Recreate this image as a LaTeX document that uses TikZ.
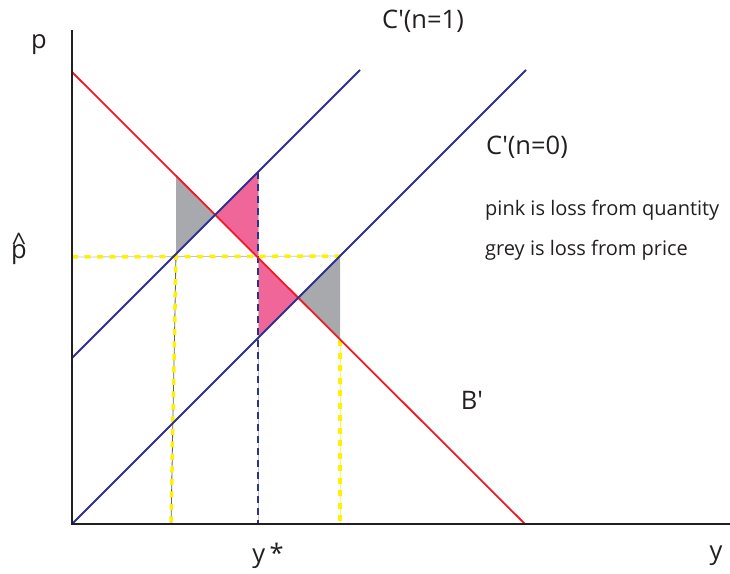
\documentclass[tikz,border=0pt]{standalone}
\usepackage{fontspec}
\setmainfont{Open Sans}
\definecolor{bred}{RGB}{237,28,36}
\definecolor{cblue}{RGB}{46,49,146}
\definecolor{lpink}{RGB}{240,102,152}
\definecolor{lgrey}{RGB}{167,169,172}
\definecolor{ylw}{RGB}{255,242,0}
\definecolor{axisc}{RGB}{35,31,32}
\begin{document}
\begin{tikzpicture}[x=1pt,y=-1pt,
  axisline/.style={draw=axisc,line width=2.2pt},
  redline/.style={draw=bred,line width=1.8pt},
  blueline/.style={draw=cblue,line width=1.8pt},
  yunder/.style={draw=lgrey!70,line width=0.8pt},
  ydash/.style={draw=ylw,line width=3.5pt,dash pattern=on 6pt off 6.5pt},
  bdash/.style={draw=cblue,line width=2.4pt,dash pattern=on 7pt off 5pt},
  lbl/.style={font=\fontsize{25.5}{28}\selectfont,text=axisc,inner sep=0pt},
  small/.style={font=\fontsize{20}{22}\selectfont,text=axisc,inner sep=0pt,anchor=west}]
\useasboundingbox (0,0) rectangle (730,573);
% key points
\coordinate (O) at (72,524);
\coordinate (Ytop) at (72,30);
\coordinate (Xend) at (730,524);
\coordinate (Bs) at (72,72);
\coordinate (Be) at (525,524);
\coordinate (C0s) at (72,524);
\coordinate (C0e) at (526,70);
\coordinate (C1s) at (72,358);
\coordinate (C1e) at (360,70);
% polygon vertices
\coordinate (g1a) at (176,176);
\coordinate (g1b) at (176,254);
\coordinate (x1) at (215,215);
\coordinate (p1a) at (258,172);
\coordinate (m) at (258,258);
\coordinate (p2b) at (258,338);
\coordinate (x2) at (298,298);
\coordinate (g2a) at (340,256);
\coordinate (g2b) at (340,340);
\coordinate (ph) at (72,257);
\coordinate (v1b) at (171,524);
\coordinate (vmb) at (258,524);
\coordinate (v2b) at (340,524);
% fills
\fill[lgrey] (g1a) -- (g1b) -- (x1) -- cycle;
\fill[lpink] (x1) -- (p1a) -- (m) -- cycle;
\fill[lpink] (m) -- (p2b) -- (x2) -- cycle;
\fill[lgrey] (x2) -- (g2a) -- (g2b) -- cycle;
% dashed guides
\draw[yunder] (ph) -- (g2a);
\draw[ydash] (ph) -- (g2a);
\draw[draw=axisc!70,line width=0.8pt] (g1b) -- (v1b);
\draw[ydash] (g1b) -- (v1b);
\draw[draw=ylw!60,line width=0.8pt] (g2b) -- (v2b);
\draw[ydash] (g2b) -- (v2b);
\draw[draw=lgrey!70,line width=0.8pt] (p1a) -- (vmb);
\draw[bdash] (p1a) -- (vmb);
% curves
\draw[redline] (Bs) -- (Be);
\draw[blueline] (C0s) -- (C0e);
\draw[blueline] (C1s) -- (C1e);
% axes
\draw[axisline] (Ytop) -- (O) -- (Xend);
% labels
\node[lbl] (lp) at (39,45) {p};
\node[lbl,anchor=base] (lph) at (19,258) {\ooalign{\hfil\raisebox{0.26em}{\char`\^}\hfil\cr p\cr}};
\node[lbl] (lys) at (268,556) {y\,*};
\node[lbl] (ly) at (716,556) {y};
\node[lbl] (lc1) at (423,21) {C′(n=1)};
\node[lbl] (lc0) at (527,147) {C′(n=0)};
\node[lbl] (lb) at (472,400) {B′};
\node[small] (t1) at (485,210) {pink is loss from quantity};
\node[small] (t2) at (485,250) {grey is loss from price};
\end{tikzpicture}
\end{document}
